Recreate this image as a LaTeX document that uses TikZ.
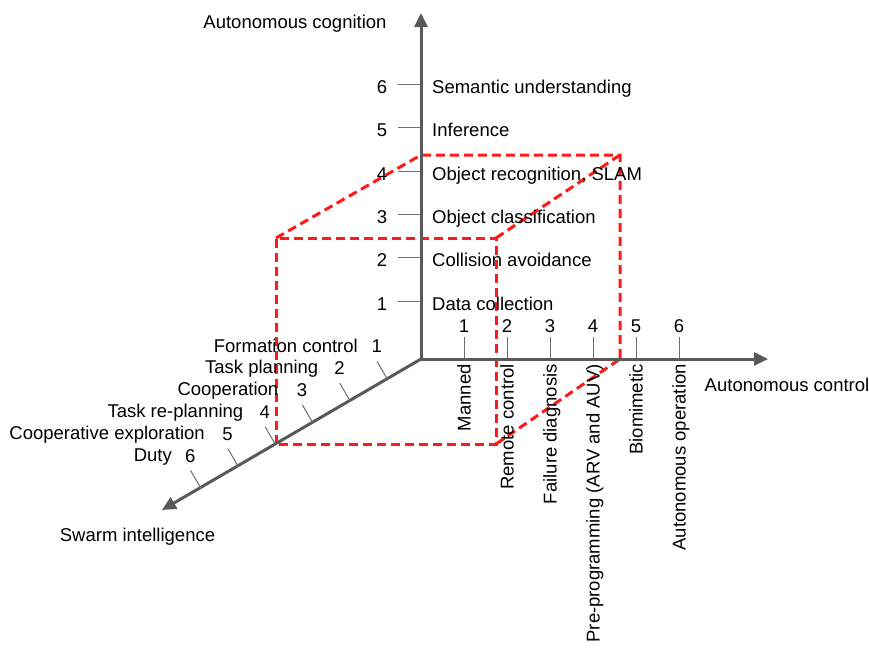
\documentclass[tikz,border=0pt]{standalone}
\usepackage{fontspec}
\setmainfont{Liberation Sans}
\usetikzlibrary{arrows.meta,calc}
\definecolor{axisgray}{RGB}{89,89,89}
\definecolor{tickgray}{RGB}{110,110,110}
\definecolor{boxred}{RGB}{255,25,25}
\begin{document}
\begin{tikzpicture}[x=1pt,y=-1pt,
  axisline/.style={draw=axisgray,line width=3pt,-{Triangle[length=14pt,width=13pt]}},
  tickline/.style={draw=tickgray,line width=1pt},
  lbl/.style={inner sep=0pt,font=\fontsize{18.5}{22}\selectfont},
  redbox/.style={draw=boxred,line width=3pt,dash pattern=on 9pt off 5pt}]
\useasboundingbox (0,0) rectangle (869,648);

% axes
\coordinate (O) at (421,359);
\coordinate (Ob) at (421,360.5);
\coordinate (ytip) at (421,13);
\coordinate (xtip) at (768,359);
\coordinate (ztip) at (162,510);

% red dashed box
\coordinate (A) at (276,444);
\coordinate (B) at (276,238);
\coordinate (C) at (496,238);
\coordinate (D) at (496,444);
\coordinate (E) at (421,155);
\coordinate (F) at (620,155);
\coordinate (G) at (620,359);
\draw[redbox] (A) -- (B) -- (C) -- (D) -- cycle;
\draw[redbox] (B) -- (E) -- (F) -- (G);
\draw[redbox] (C) -- (F);
\draw[redbox] (D) -- (G);

\draw[axisline] (Ob) -- (ytip);
\draw[axisline] (O) -- (xtip);
\draw[axisline] (O) -- (ztip);

% vertical axis ticks
\foreach \i/\t in {1/Data collection,2/Collision avoidance,3/Object classification,4/{Object recognition, SLAM},5/Inference,6/Semantic understanding}{
  \pgfmathsetmacro{\yy}{344.3-43.3*\i}
  \coordinate (yt\i) at (421,\yy);
  \coordinate (ys\i) at (398,\yy);
  \draw[tickline] (ys\i) -- (yt\i);
  \node[lbl,anchor=base] (yn\i) at (382,\yy+9) {\i};
  \node[lbl,anchor=base west] (ytx\i) at (432,\yy+9) {\t};
}

% horizontal axis ticks
\foreach \i/\t in {1/Manned,2/Remote control,3/Failure diagnosis,4/Pre-programming (ARV and AUV),5/Biomimetic,6/Autonomous operation}{
  \pgfmathsetmacro{\xx}{421+43*\i}
  \coordinate (xt\i) at (\xx,359);
  \coordinate (xs\i) at (\xx,337);
  \draw[tickline] (xs\i) -- (xt\i);
  \node[lbl,anchor=base] (xn\i) at (\xx,332) {\i};
  \node[lbl,rotate=90,anchor=base east] (xtx\i) at (\xx+6.7,364) {\t};
}

% diagonal axis ticks
\foreach \i in {1,...,6}{
  \pgfmathsetmacro{\px}{424.5-37.3*\i}
  \pgfmathsetmacro{\py}{359+(421-\px)*0.585}
  \coordinate (zt\i) at (\px,\py);
  \coordinate (zs\i) at (\px-10.2,\py-17.5);
  \draw[tickline] (zs\i) -- (zt\i);
  \pgfmathsetmacro{\nx}{414-37.3*\i}
  \pgfmathsetmacro{\ny}{331+21.9*\i}
  \node[lbl,anchor=base] (zn\i) at (\nx,\ny) {\i};
}
\node[lbl,anchor=base east] (ztx1) at (358,352) {Formation control};
\node[lbl,anchor=base east] (ztx2) at (318.5,373.5) {Task planning};
\node[lbl,anchor=base east] (ztx3) at (278.5,395) {Cooperation};
\node[lbl,anchor=base east] (ztx4) at (243.5,417) {Task re-planning};
\node[lbl,anchor=base east] (ztx5) at (205,439) {Cooperative exploration};
\node[lbl,anchor=base east] (ztx6) at (172,461.5) {Duty};

% axis titles
\node[lbl,anchor=base] (ytitle) at (295,28) {Autonomous cognition};
\node[lbl,anchor=base] (xtitle) at (787,391) {Autonomous control};
\node[lbl,anchor=base] (ztitle) at (137.5,541) {Swarm intelligence};
\end{tikzpicture}
\end{document}
